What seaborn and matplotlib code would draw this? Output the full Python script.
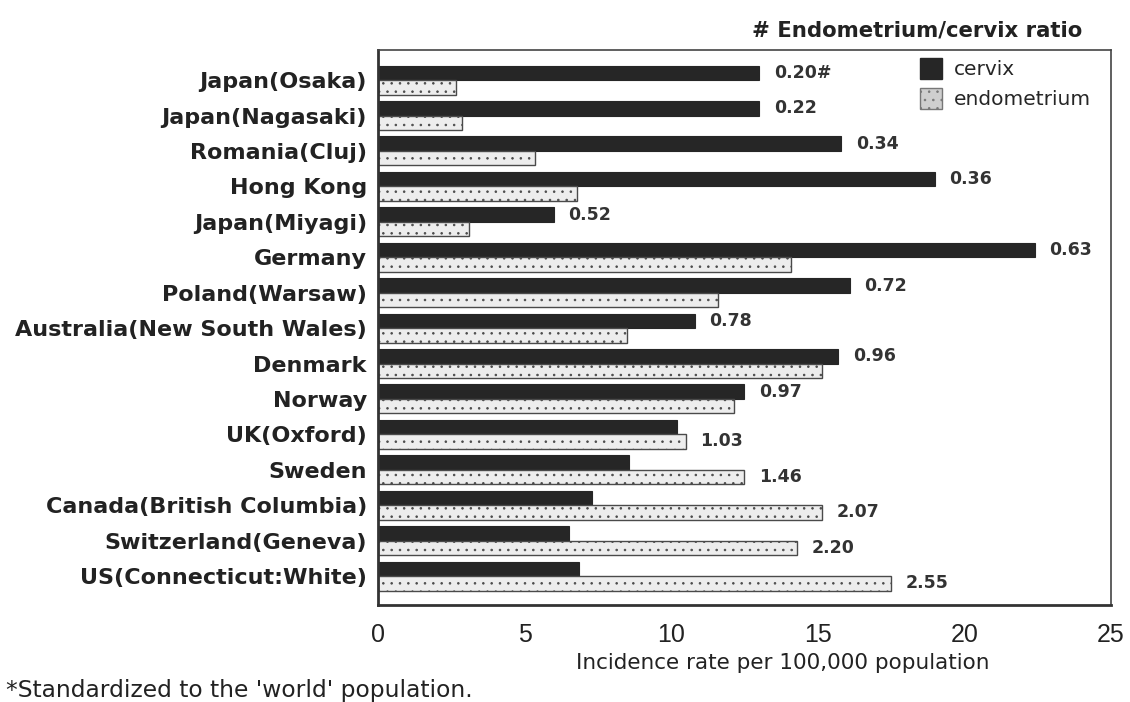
import numpy as np
import pandas as pd
import matplotlib
matplotlib.use('Agg')
import matplotlib.pyplot as plt
from matplotlib.patches import Patch
import seaborn as sns

# ------------------------------------------------------------
# data
# ------------------------------------------------------------
sites = ['Japan(Osaka)', 'Japan(Nagasaki)', 'Romania(Cluj)', 'Hong Kong',
         'Japan(Miyagi)', 'Germany', 'Poland(Warsaw)',
         'Australia(New South Wales)', 'Denmark', 'Norway', 'UK(Oxford)',
         'Sweden', 'Canada(British Columbia)', 'Switzerland(Geneva)',
         'US(Connecticut:White)']
cervix = [13.0, 13.0, 15.8, 19.0, 6.0, 22.4, 16.1, 10.8, 15.7, 12.5,
          10.2, 8.55, 7.3, 6.5, 6.85]
endometrium = [2.65, 2.85, 5.35, 6.8, 3.1, 14.1, 11.6, 8.5, 15.15, 12.15,
               10.5, 12.5, 15.15, 14.3, 17.5]
ratio_labels = ['0.20#', '0.22', '0.34', '0.36', '0.52', '0.63', '0.72',
                '0.78', '0.96', '0.97', '1.03', '1.46', '2.07', '2.20', '2.55']

df = pd.DataFrame({
    'site': sites * 2,
    'rate': cervix + endometrium,
    'type': ['cervix'] * len(sites) + ['endometrium'] * len(sites),
})

# ------------------------------------------------------------
# plot
# ------------------------------------------------------------
sns.set_theme(style='white')
plt.rcParams['font.family'] = ['DejaVu Sans']
plt.rcParams['hatch.linewidth'] = 0.6

fig = plt.figure(figsize=(11.3, 7.02), dpi=100)
ax = fig.add_axes([0.3345, 0.138, 0.6485, 0.7908])

dark = '#262626'
light = '#ededed'
txt = '#222222'
sns.barplot(data=df, y='site', x='rate', hue='type', orient='h',
            palette={'cervix': dark, 'endometrium': light},
            width=0.82, saturation=1, legend=False, ax=ax)

for bar in ax.containers[0]:
    bar.set_edgecolor(dark)
    bar.set_linewidth(0.8)
for bar in ax.containers[1]:
    bar.set_edgecolor('#4a4a4a')
    bar.set_hatch('..')
    bar.set_linewidth(1.0)

# ratio labels beside the longer bar
for i, (c, e, lab) in enumerate(zip(cervix, endometrium, ratio_labels)):
    if c >= e:
        ax.text(c + 0.5, i - 0.2, lab, va='center', ha='left',
                fontsize=12.5, fontweight='bold', color='#333333')
    else:
        ax.text(e + 0.5, i + 0.2, lab, va='center', ha='left',
                fontsize=12.5, fontweight='bold', color='#333333')

ax.set_xlim(0, 25)
ax.set_ylim(14.82, -0.85)
ax.set_xticks([0, 5, 10, 15, 20, 25])
ax.set_xticks(np.arange(2.5, 25, 5), minor=True)
ax.tick_params(axis='x', which='major', direction='in', length=8, width=1.2,
               pad=13, colors=txt)
ax.tick_params(axis='x', which='minor', direction='in', length=5, width=1.0)
ax.tick_params(axis='y', length=0, pad=8)
for lab in ax.get_xticklabels():
    lab.set_family(['Liberation Sans', 'DejaVu Sans'])
    lab.set_fontsize(18)
for lab in ax.get_yticklabels():
    lab.set_fontsize(16)
    lab.set_fontweight('bold')
    lab.set_color(txt)
ax.set_xlabel('')
ax.set_ylabel('')

for side in ['top', 'right']:
    ax.spines[side].set_color('#444444')
    ax.spines[side].set_linewidth(1.2)
for side in ['left', 'bottom']:
    ax.spines[side].set_color('#333333')
    ax.spines[side].set_linewidth(2.0)

handles = [Patch(facecolor=dark, edgecolor=dark, label='cervix'),
           Patch(facecolor='#cfcfcf', edgecolor='#777777', hatch='..',
                 label='endometrium')]
ax.legend(handles=handles, loc='upper left', bbox_to_anchor=(0.715, 1.018),
          frameon=False, handlelength=1.1, handleheight=1.2,
          handletextpad=0.6, labelspacing=0.45, prop={'size': 14.5})

fig.text(783 / 1130, 1 - 663 / 702, 'Incidence rate per 100,000 population',
         ha='center', va='center', fontsize=15.5, color=txt)
fig.text(0.958, 1 - 30 / 702, '# Endometrium/cervix ratio',
         ha='right', va='center', fontsize=15.3, fontweight='bold', color=txt)
fig.text(0.005, 1 - 690 / 702, "*Standardized to the 'world' population.",
         ha='left', va='center', fontsize=16.8, color=txt)

plt.savefig('out.png', dpi=100)
